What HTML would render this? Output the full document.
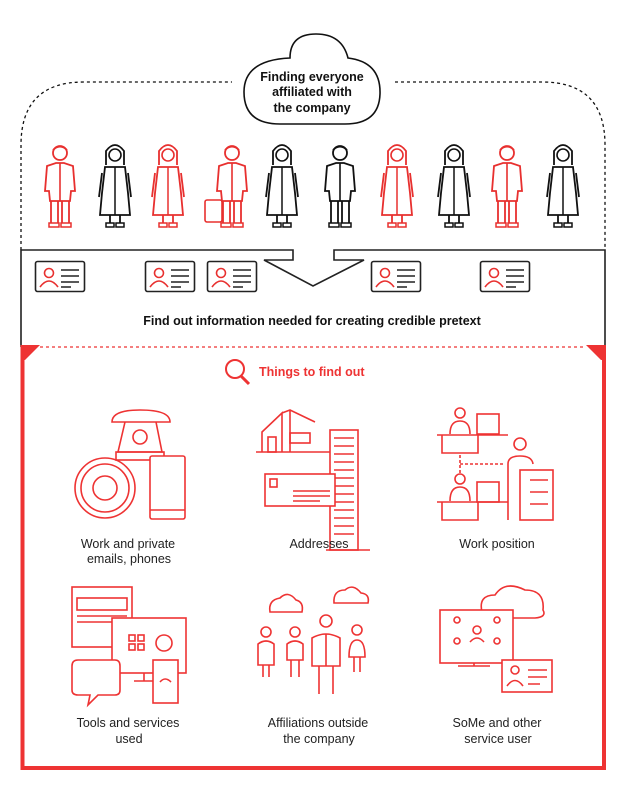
<!DOCTYPE html>
<html><head><meta charset="utf-8"><style>
html,body{margin:0;padding:0;background:#fff}
svg{display:block}
text{font-family:"Liberation Sans",sans-serif}
</style></head><body>
<svg width="624" height="802" viewBox="0 0 624 802">
<defs>
<symbol id="man" viewBox="-20 0 40 86" overflow="visible">
<circle cx="0" cy="10" r="7" fill="none" stroke-width="1.8"/>
<path d="M-7 7 Q0 0 7 7" fill="none" stroke-width="1.8"/>
<path d="M-13 23 L-4 20 L4 20 L13 23 L15 48 L11 48 L10 58 L-10 58 L-11 48 L-15 48 Z" fill="none" stroke-width="1.8"/>
<line x1="0" y1="20" x2="0" y2="58" stroke-width="1.6"/>
<path d="M-9 58 L-9 80 M-2 58 L-2 80 M2 58 L2 80 M9 58 L9 80" stroke-width="1.8"/>
<path d="M-11 80 L-1 80 L-1 84 L-11 84 Z M1 80 L11 80 L11 84 L1 84 Z" stroke-width="1.5" fill="none"/>
</symbol>
<symbol id="woman" viewBox="-20 0 40 86" overflow="visible">
<path d="M-9 22 L-9 8 Q0 -4 9 8 L9 22" fill="none" stroke-width="1.8"/>
<circle cx="0" cy="12" r="6" fill="none" stroke-width="1.6"/>
<path d="M-10 24 L10 24 L13 50 L15 72 L-15 72 L-13 50 Z" fill="none" stroke-width="1.8"/>
<line x1="0" y1="24" x2="0" y2="72" stroke-width="1.5"/>
<path d="M-13 30 L-16 54 M13 30 L16 54" stroke-width="1.8"/>
<path d="M-5 72 L-5 80 M5 72 L5 80" stroke-width="1.8"/>
<path d="M-9 80 L-1 80 L-1 84 L-9 84 Z M1 80 L9 80 L9 84 L1 84 Z" stroke-width="1.5" fill="none"/>
</symbol>
<symbol id="card" viewBox="0 0 50 31" overflow="visible">
<rect x="0.5" y="0.5" width="49" height="30" rx="2" fill="none" stroke="#222" stroke-width="1.6"/>
<circle cx="14" cy="12" r="4.5" fill="none" stroke="#e8302f" stroke-width="1.6"/>
<path d="M5 26 Q14 14 23 26" fill="none" stroke="#e8302f" stroke-width="1.6"/>
<path d="M26 9 H44 M26 15 H44 M26 21 H44 M26 26 H36" stroke="#222" stroke-width="1.6"/>
</symbol>
</defs>

<path d="M21 250 L21 145 Q21 82 84 82 L232 82 M395 82 L542 82 Q605 82 605 145 L605 250" fill="none" stroke="#111" stroke-width="1.3" stroke-dasharray="3,3"/>
<path d="M290 58 Q290 34 316 34 Q342 34 348 58 Q381 62 380 94 Q379 124 345 124 L280 124 Q244 124 244 92 Q244 60 290 58 Z" fill="#fff" stroke="#111" stroke-width="1.6"/>
<text x="312" y="81" font-size="12.5" font-weight="bold" text-anchor="middle" fill="#111">Finding everyone</text>
<text x="312" y="96" font-size="12.5" font-weight="bold" text-anchor="middle" fill="#111">affiliated with</text>
<text x="312" y="112" font-size="12.5" font-weight="bold" text-anchor="middle" fill="#111">the company</text>

<g>
<use href="#man" x="40" y="143" width="40" height="86" stroke="#e8302f"/>
<use href="#woman" x="95" y="143" width="40" height="86" stroke="#111"/>
<use href="#woman" x="148" y="143" width="40" height="86" stroke="#e8302f"/>
<use href="#man" x="212" y="143" width="40" height="86" stroke="#e8302f"/>
<rect x="205" y="200" width="17" height="22" rx="2" fill="none" stroke="#e8302f" stroke-width="1.6"/>
<use href="#woman" x="262" y="143" width="40" height="86" stroke="#111"/>
<use href="#man" x="320" y="143" width="40" height="86" stroke="#111"/>
<use href="#woman" x="377" y="143" width="40" height="86" stroke="#e8302f"/>
<use href="#woman" x="434" y="143" width="40" height="86" stroke="#111"/>
<use href="#man" x="487" y="143" width="40" height="86" stroke="#e8302f"/>
<use href="#woman" x="543" y="143" width="40" height="86" stroke="#111"/>
</g>

<path d="M21 347 L21 250 L293 250 L293 260 L264 260 L313 286 L364 260 L334 260 L334 250 L605 250 L605 347" fill="none" stroke="#222" stroke-width="1.6"/>
<g>
<use href="#card" x="35" y="261" width="50" height="31"/>
<use href="#card" x="145" y="261" width="50" height="31"/>
<use href="#card" x="207" y="261" width="50" height="31"/>
<use href="#card" x="371" y="261" width="50" height="31"/>
<use href="#card" x="480" y="261" width="50" height="31"/>
</g>
<text x="312" y="325" font-size="12.5" font-weight="bold" text-anchor="middle" fill="#111">Find out information needed for creating credible pretext</text>

<path d="M22.5 347 L22.5 768 L604 768 L604 347" fill="none" stroke="#ee3333" stroke-width="4"/>
<path d="M20.5 345 L40 345 L25 360 L20.5 360 Z M606 345 L586 345 L601 360 L606 360 Z" fill="#ee3333"/>
<line x1="40" y1="347" x2="586" y2="347" stroke="#ee3333" stroke-width="1.3" stroke-dasharray="3,3"/>
<g stroke="#ee3333" fill="none" stroke-width="2">
<circle cx="235" cy="369" r="9"/><line x1="241" y1="376" x2="249" y2="384" stroke-width="3"/>
</g>
<text x="259" y="376" font-size="12.5" font-weight="bold" fill="#ee3333">Things to find out</text>

<g stroke="#ee3333" fill="none" stroke-width="1.6">
<g>
<path d="M112 422 Q112 410 140 410 Q170 410 170 422 L112 422 Z"/>
<path d="M125 422 L118 452 L162 452 L156 422"/><circle cx="140" cy="437" r="7"/>
<rect x="116" y="452" width="48" height="8"/>
<circle cx="105" cy="488" r="30"/><circle cx="105" cy="488" r="24"/><circle cx="105" cy="488" r="12"/>
<rect x="150" y="456" width="35" height="63" rx="2" fill="#fff"/><line x1="150" y1="510" x2="185" y2="510"/>
</g>
<g>
<path d="M256 452 L330 452 M262 452 L262 432 L282 413 L282 452 M282 413 L290 410 L315 422 M290 410 L290 452"/>
<rect x="290" y="433" width="20" height="10"/><rect x="268" y="437" width="8" height="15"/>
<rect x="330" y="430" width="28" height="120"/>
<path d="M334 438 H354 M334 446 H354 M334 454 H354 M334 462 H354 M334 470 H354 M334 478 H354 M334 486 H354 M334 494 H354 M334 502 H354 M334 510 H354 M334 518 H354 M334 526 H354 M334 534 H354 M326 550 H370"/>
<rect x="265" y="474" width="70" height="32" fill="#fff"/><rect x="270" y="479" width="7" height="8"/>
<path d="M293 491 H330 M293 496 H330 M293 501 H320"/>
</g>
<g>
<circle cx="460" cy="413" r="5"/><path d="M450 434 Q450 421 460 421 Q470 421 470 434"/>
<rect x="477" y="414" width="22" height="20"/><path d="M437 435 H508 M442 435 V453 H478 V435"/>
<circle cx="460" cy="479" r="5"/><path d="M450 501 Q450 487 460 487 Q470 487 470 501"/>
<rect x="477" y="482" width="22" height="20"/><path d="M437 502 H508 M442 502 V520 H478 V502"/>
<path d="M460 455 V475 M460 464 H505" stroke-dasharray="3,2"/>
<circle cx="520" cy="444" r="6"/><path d="M508 520 V464 Q508 456 520 456 Q532 456 533 464"/>
<rect x="520" y="470" width="33" height="50"/><path d="M530 480 H548 M530 492 H548 M530 504 H548"/>
</g>
<g>
<rect x="72" y="587" width="60" height="60"/><rect x="77" y="598" width="50" height="12"/>
<path d="M77 616 H127 M77 622 H127"/>
<rect x="112" y="618" width="74" height="55" fill="#fff"/><path d="M134 681 H154 M144 673 V681"/>
<rect x="129" y="635" width="6" height="6"/><rect x="138" y="635" width="6" height="6"/><rect x="129" y="644" width="6" height="6"/><rect x="138" y="644" width="6" height="6"/>
<circle cx="164" cy="643" r="8"/>
<path d="M78 660 H115 Q120 660 120 666 V690 Q120 695 115 695 H98 L88 705 L90 695 H78 Q72 695 72 690 V666 Q72 660 78 660 Z" fill="#fff"/>
<rect x="153" y="660" width="25" height="43" fill="#fff"/><path d="M160 682 Q165 676 171 682"/>
</g>
<g>
<path d="M270 612 Q268 600 280 598 Q288 590 296 600 Q304 602 302 612 Z"/>
<path d="M334 603 Q333 590 345 590 Q353 583 361 593 Q370 594 368 603 Z"/>
<circle cx="266" cy="632" r="5"/><path d="M258 665 V644 Q266 638 274 644 V665 Z M263 665 V677 M269 665 V677"/>
<circle cx="295" cy="632" r="5"/><path d="M287 660 V644 Q295 638 303 644 V660 Z M291 660 V677 M299 660 V677"/>
<circle cx="326" cy="621" r="6"/><path d="M312 666 V638 Q326 630 340 638 V666 Z M319 666 V694 M333 666 V694 M326 634 V666"/>
<circle cx="357" cy="630" r="5"/><path d="M349 657 Q349 640 357 640 Q365 640 365 657 Z M354 657 V672 M360 657 V672"/>
</g>
<g>
<path d="M482 612 Q478 595 495 595 Q505 580 525 590 Q545 590 543 610 Q547 617 535 618 L483 618"/>
<rect x="440" y="610" width="73" height="53" fill="#fff"/><path d="M458 666 H490 M474 663 V666"/>
<circle cx="477" cy="630" r="4"/><path d="M470 642 Q477 634 484 642"/>
<circle cx="457" cy="620" r="3"/><circle cx="497" cy="620" r="3"/><circle cx="457" cy="641" r="3"/><circle cx="497" cy="641" r="3"/>
<rect x="502" y="660" width="50" height="32" fill="#fff"/><circle cx="515" cy="670" r="4"/><path d="M507 686 Q515 675 523 686 M528 670 H547 M528 677 H547 M528 684 H540"/>
</g>
</g>

<g font-size="12.5" fill="#222" text-anchor="middle">
<text x="128" y="548">Work and private</text>
<text x="129" y="563">emails, phones</text>
<text x="319" y="548">Addresses</text>
<text x="497" y="548">Work position</text>
<text x="128" y="727">Tools and services</text>
<text x="129" y="743">used</text>
<text x="318" y="727">Affiliations outside</text>
<text x="319" y="743">the company</text>
<text x="497" y="727">SoMe and other</text>
<text x="498" y="743">service user</text>
</g>
</svg>
</body></html>
